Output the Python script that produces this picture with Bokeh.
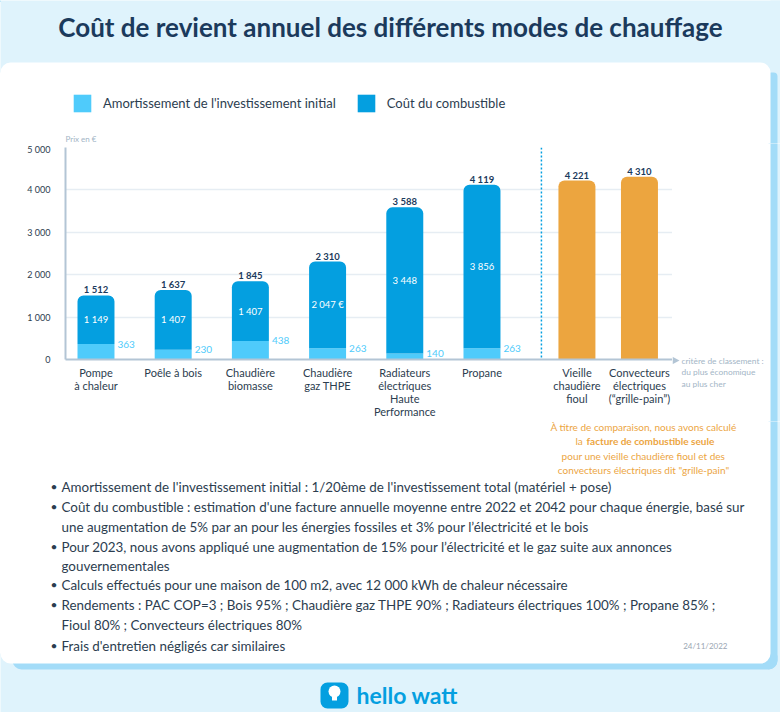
from bokeh.plotting import figure
from bokeh.layouts import column, row
from bokeh.models import (Range1d, Span, Legend, LegendItem, FixedTicker)
from bokeh.core.properties import value
from bokeh.embed import file_html
from bokeh.resources import INLINE

# ---------------- data ----------------
title_text = "Coût de revient annuel des différents modes de chauffage"
main_categories = ["Pompe\nà chaleur", "Poêle à bois", "Chaudière\nbiomasse", "Chaudière\ngaz THPE",
                   "Radiateurs\nélectriques\nHaute\nPerformance", "Propane"]
amortissement = [363, 230, 438, 263, 140, 263]
combustible = [1149, 1407, 1407, 2047, 3448, 3856]
combustible_labels = ["1 149", "1 407", "1 407", "2 047 €", "3 448", "3 856"]
comparison_categories = ["Vieille\nchaudière\nfioul", "Convecteurs\nélectriques\n(“grille-pain”)"]
comparison_values = [4221, 4310]
y_ticks = [0, 1000, 2000, 3000, 4000, 5000]
y_tick_labels = ["0", "1 000", "2 000", "3 000", "4 000", "5 000"]
legend_labels = ["Amortissement de l'investissement initial", "Coût du combustible"]
y_axis_title = "Prix en €"
ranking_note = ["critère de classement :", "du plus économique", "au plus cher"]
comparison_note = ["À titre de comparaison, nous avons calculé", "la ", "facture de combustible seule",
                   "pour une vieille chaudière fioul et des", "convecteurs électriques dit \"grille-pain\""]
notes = [
    (True, "Amortissement de l'investissement initial : 1/20ème de l'investissement total (matériel + pose)"),
    (True, "Coût du combustible : estimation d'une facture annuelle moyenne entre 2022 et 2042 pour chaque énergie, basé sur"),
    (False, "une augmentation de 5% par an pour les énergies fossiles et 3% pour l’électricité et le bois"),
    (True, "Pour 2023, nous avons appliqué une augmentation de 15% pour l’électricité et le gaz suite aux annonces"),
    (False, "gouvernementales"),
    (True, "Calculs effectués pour une maison de 100 m2, avec 12 000 kWh de chaleur nécessaire"),
    (True, "Rendements : PAC COP=3 ; Bois 95% ; Chaudière gaz THPE 90% ; Radiateurs électriques 100% ; Propane 85% ;"),
    (False, "Fioul 80% ; Convecteurs électriques 80%"),
    (True, "Frais d'entretien négligés car similaires"),
]
date_text = "24/11/2022"
brand_text = "hello watt"


def fmt(v):
    return f"{v:,}".replace(",", " ")


# ---------------- styles ----------------
BG = "#dff3fc"
SHADOW = "#a3dcf8"
TITLE_C = "#1b3a5c"
DARK = "#2c3d4f"
LIGHT_BLUE = "#4fcbfb"
BLUE = "#049fe0"
ORANGE = "#eca53f"
AXIS_C = "#b3c5d5"
GRID_C = "#e6edf3"
GRAY = "#a3b5c6"
FONT = "Lato"

W = 780
Y_CHART_TOP = 143      # page y where the chart panel starts
Y_CHART_BOT = 421      # page y where the chart panel ends
X_SPLIT = 672          # page x where the chart panel ends


def deco_fig(w, h, x0, x1, y0, y1):
    """Decoration panel whose data coordinates are page pixels (y downwards)."""
    f = figure(width=w, height=h, x_range=Range1d(x0, x1), y_range=Range1d(y1, y0),
               output_backend="svg", toolbar_location=None, min_border=0,
               x_axis_type=None, y_axis_type=None, frame_align=False,
               background_fill_color="white", border_fill_color="white", outline_line_color=None)
    # page background only outside the card
    f.quad(left=-50, right=850, top=-50, bottom=72, fill_color=BG, line_color=None)
    f.quad(left=-50, right=850, top=653, bottom=800, fill_color=BG, line_color=None)
    f.quad(left=770, right=850, top=-50, bottom=800, fill_color=BG, line_color=None)
    # card shadow (right and bottom)
    f.quad(left=768, right=777, top=72, bottom=669, fill_color=SHADOW, line_color=None,
           border_radius=(0, 4, 9, 0))
    f.quad(left=12, right=777, top=655, bottom=669, fill_color=SHADOW, line_color=None,
           border_radius=(0, 0, 9, 9))
    # white card
    f.quad(left=0, right=770, top=62, bottom=663, fill_color="white", line_color=None, border_radius=10)
    return f


def txt(f, X, Y, t, size, color, align="left", bold=False):
    f.text(x=[X], y=[Y], text=[t], text_font=value(FONT), text_font_size=f"{size}px",
           text_color=color, text_align=align, text_baseline="middle",
           text_font_style="bold" if bold else "normal")


# ================= header (title + legend) =================
fa = deco_fig(W, Y_CHART_TOP, 0, W, 0, Y_CHART_TOP)
txt(fa, 390, 26, title_text, 26, TITLE_C, align="center", bold=True)
txt(fa, 65, 138, y_axis_title, 8, GRAY)
# legend swatches come from (off-screen) renderers in the library's own Legend
r_l = fa.vbar(x=[-1000], top=[1], width=1, fill_color=LIGHT_BLUE, line_color=None)
r_d = fa.vbar(x=[-1000], top=[1], width=1, fill_color=BLUE, line_color=None)
legend = Legend(items=[LegendItem(label=legend_labels[0], renderers=[r_l]),
                       LegendItem(label=legend_labels[1], renderers=[r_d])],
                orientation="horizontal", location=(71, Y_CHART_TOP - 114),
                glyph_width=22, glyph_height=22, label_standoff=10, spacing=19,
                padding=0, margin=0, border_line_color=None, background_fill_alpha=0,
                label_text_font=FONT, label_text_font_size="13px", label_text_color=DARK)
fa.add_layout(legend)

# ================= chart =================
n = len(main_categories)
main_pos = list(range(n))
comp_pos = [n + 0.23, n + 1.04]
sep_pos = n - 0.23
totals = [a + c for a, c in zip(amortissement, combustible)]
mids = [a + c / 2 for a, c in zip(amortissement, combustible)]

fb = figure(width=X_SPLIT, height=Y_CHART_BOT - Y_CHART_TOP,
            x_range=Range1d(-0.395, 7.468), y_range=Range1d(0, 5000),
            output_backend="svg", toolbar_location=None, frame_align=False,
            min_border_left=65, min_border_right=0, min_border_top=147 - Y_CHART_TOP,
            min_border_bottom=Y_CHART_BOT - 359,
            border_fill_color="white", background_fill_color="white", outline_line_color=None)
bw = 0.479
fb.vbar(x=main_pos, bottom=0, top=amortissement, width=bw, fill_color=LIGHT_BLUE, line_color=None)
fb.vbar(x=main_pos, bottom=amortissement, top=totals, width=bw, fill_color=BLUE, line_color=None,
        border_radius=(6, 6, 0, 0))
fb.vbar(x=comp_pos, bottom=0, top=comparison_values, width=bw, fill_color=ORANGE, line_color=None,
        border_radius=(6, 6, 0, 0))
fb.add_layout(Span(location=sep_pos, dimension="height", line_color=BLUE, line_width=1.5, line_dash="2 2"))

fb.text(x=main_pos + comp_pos, y=totals + comparison_values,
        text=[fmt(v) for v in totals + comparison_values],
        text_font=value(FONT), text_font_style="bold", text_font_size="9.5px", text_color=TITLE_C,
        text_align="center", text_baseline="bottom")
fb.text(x=main_pos, y=mids, text=combustible_labels, text_font=value(FONT), text_font_size="9.5px",
        text_color="white", text_align="center", text_baseline="middle")
fb.text(x=main_pos, y=amortissement, text=[fmt(v) for v in amortissement], text_font=value(FONT),
        text_font_size="10px", text_color=LIGHT_BLUE, text_align="left", text_baseline="middle",
        x_offset=21.5)

fb.yaxis.ticker = FixedTicker(ticks=y_ticks)
fb.yaxis.major_label_overrides = dict(zip(y_ticks, y_tick_labels))
fb.yaxis.axis_line_color = AXIS_C
fb.yaxis.axis_line_width = 2
fb.yaxis.major_tick_line_color = None
fb.yaxis.minor_tick_line_color = None
fb.yaxis.major_label_text_font = FONT
fb.yaxis.major_label_text_font_size = "9px"
fb.yaxis.major_label_text_color = DARK
fb.yaxis.major_label_standoff = 9

fb.xaxis.ticker = FixedTicker(ticks=main_pos + comp_pos)
fb.xaxis.major_label_overrides = dict(zip(main_pos + comp_pos, main_categories + comparison_categories))
fb.xaxis.axis_line_color = AXIS_C
fb.xaxis.axis_line_width = 2
fb.xaxis.major_tick_line_color = None
fb.xaxis.minor_tick_line_color = None
fb.xaxis.major_label_text_font = FONT
fb.xaxis.major_label_text_font_size = "11px"
fb.xaxis.major_label_text_line_height = 1.0
fb.xaxis.major_label_text_color = DARK
fb.xaxis.major_label_standoff = 0

fb.xgrid.visible = False
fb.ygrid.ticker = FixedTicker(ticks=y_ticks)
fb.ygrid.grid_line_color = GRID_C
fb.ygrid.grid_line_width = 1.5

# ================= right of chart =================
fr = deco_fig(W - X_SPLIT, Y_CHART_BOT - Y_CHART_TOP, X_SPLIT, W, Y_CHART_TOP, Y_CHART_BOT)
fr.patch(x=[X_SPLIT, X_SPLIT + 7, X_SPLIT], y=[356.3, 360, 363.7], fill_color=AXIS_C, line_color=None)
for i, t in enumerate(ranking_note):
    txt(fr, 681, 360 + i * 11.5, t, 8.4, GRAY)

# ================= notes + footer =================
fc = deco_fig(W, 712 - Y_CHART_BOT, 0, W, Y_CHART_BOT, 712)
txt(fc, 643, 426, comparison_note[0], 10, ORANGE, align="center")
txt(fc, 575, 440.5, comparison_note[1], 10, ORANGE)
txt(fc, 586, 440.5, comparison_note[2], 10, ORANGE, bold=True)
txt(fc, 643, 455, comparison_note[3], 10, ORANGE, align="center")
txt(fc, 643, 469.5, comparison_note[4], 10, ORANGE, align="center")

ys = [486, 506, 526, 546, 565, 584, 604, 624, 645]
for (bullet, t), Y in zip(notes, ys):
    if bullet:
        txt(fc, 50, Y, "•", 12, DARK)
    txt(fc, 61, Y, t, 13.4, DARK)
txt(fc, 727, 645, date_text, 8, "#9aa6b2", align="right")

fc.quad(left=320, right=348, top=682, bottom=708, fill_color=BLUE, line_color=None, border_radius=7)
fc.scatter(x=[334], y=[691], size=12, marker="circle", fill_color="white", line_color=None)
fc.quad(left=331.5, right=336.5, top=696, bottom=700, fill_color="white", line_color=None)
txt(fc, 356, 694, brand_text, 23, BLUE, bold=True)

layout = column(fa, row(fb, fr), fc)

open("out.html", "w").write(file_html(layout, INLINE))
